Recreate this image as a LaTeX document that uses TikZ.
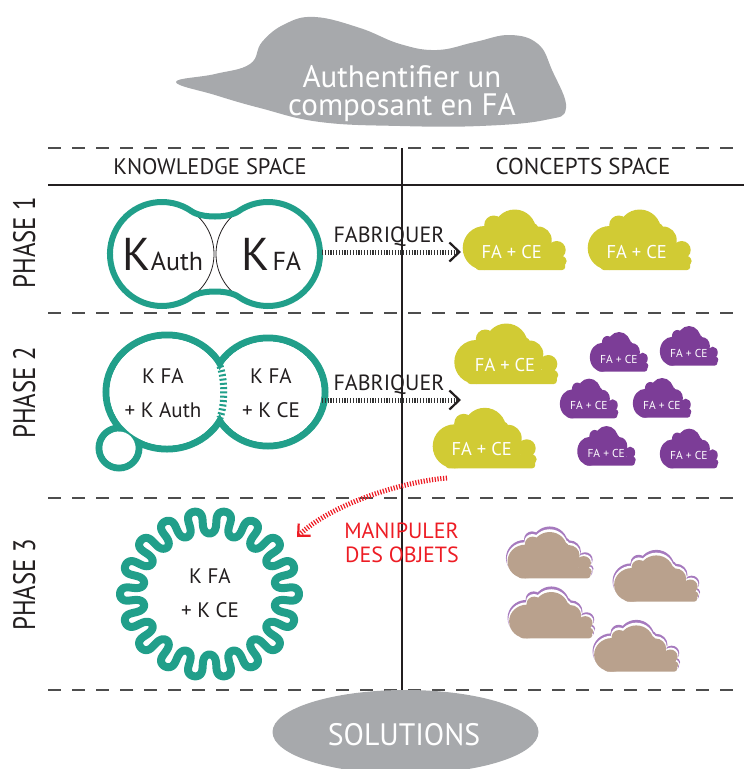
\documentclass[tikz,border=0pt]{standalone}
\usepackage{fontspec}
\setmainfont{PT Sans}
\newfontfamily\hdrfont[FakeStretch=1.0]{PT Sans}
\newfontfamily\solfont[FakeStretch=0.96]{PT Sans}
\newfontfamily\phfont[FakeStretch=0.8]{PT Sans}
\usetikzlibrary{arrows.meta,shapes.geometric}
\definecolor{tealc}{RGB}{33,159,138}
\definecolor{yelc}{RGB}{209,203,52}
\definecolor{purc}{RGB}{124,61,151}
\definecolor{lpurc}{RGB}{166,122,190}
\definecolor{brownc}{RGB}{185,161,141}
\definecolor{grayc}{RGB}{167,169,172}
\definecolor{inkc}{RGB}{35,31,32}
\definecolor{redc}{RGB}{237,28,36}
\definecolor{dashc}{RGB}{77,77,77}
\definecolor{tickc}{RGB}{51,51,51}
\newcommand\fsz[1]{\fontsize{#1}{#1}\selectfont}
\tikzset{
  sepline/.style={dashc, line width=1.4pt, dash pattern=on 13pt off 11pt},
  ruleline/.style={inkc, line width=1.8pt},
  lbl/.style={inkc, inner sep=0pt, anchor=base},
  wtxt/.style={white, inner sep=0pt, anchor=base},
  ctxt/.style={white, inner sep=0pt},
  ticks/.style={tickc, line width=5pt, dash pattern=on 1.2pt off 1.6pt},
  redticks/.style={redc, line width=5pt, dash pattern=on 1.2pt off 1.6pt},
  cloudpic/.pic={
    \fill[pic actions] (23,-22) circle[radius=22] (32,-45) circle[radius=9.5]
      (53,-39) circle[radius=21.5] (76.5,-30) circle[radius=13.5]
      (95,-20) circle[radius=9] (100.5,-9) circle[radius=4.5]
      (40,-44) circle[radius=8] (68,-38) circle[radius=10];
    \fill[pic actions, rounded corners=3pt] (14,0) rectangle (103.5,-14);
    \fill[pic actions] (15,-10) rectangle (88,-36);
  }
}
\newcommand\layercloud[2]{%
  \pic[fill=lpurc, xscale=0.842, yscale=0.819] at ({#1-1.6},{#2-2.3}) {cloudpic};
  \pic[fill=white, xscale=0.826, yscale=0.792] at ({#1-0.8},{#2-1.15}) {cloudpic};
  \pic[fill=brownc, xscale=0.81, yscale=0.765] at (#1,#2) {cloudpic};}
\begin{document}
\begin{tikzpicture}[x=1pt,y=-1pt]
\useasboundingbox (0,0) rectangle (744,769);
% ---- top cloud
\fill[grayc] plot[smooth cycle, tension=0.7] coordinates {(176,82) (215,74) (250,64) (262,42) (285,24) (315,17) (360,28) (400,44) (437,50) (475,42) (510,35) (538,44) (552,70) (566,108) (545,120) (480,126) (400,126) (320,122) (260,108) (215,95)};
\node[wtxt, font={\fsz{31}}] (goal1) at (402,87) {Authentifier un};
\node[wtxt, font={\fsz{31}}] (goal2) at (402,115) {composant en FA};
% ---- grid
\coordinate (d0l) at (48,148); \coordinate (d0r) at (744,148);
\coordinate (d1l) at (48,313); \coordinate (d1r) at (744,313);
\coordinate (d2l) at (48,498); \coordinate (d2r) at (744,498);
\coordinate (d3l) at (48,690); \coordinate (d3r) at (744,690);
\coordinate (hl) at (48,185); \coordinate (hr) at (744,185);
\coordinate (vt) at (402,148); \coordinate (vb) at (402,690);
\draw[sepline] (d0l) -- (d0r);
\draw[sepline] (d1l) -- (d1r);
\draw[sepline] (d2l) -- (d2r);
\draw[sepline] (d3l) -- (d3r);
\draw[ruleline] (hl) -- (hr);
\draw[ruleline] (vt) -- (vb);
\node[lbl, font={\hdrfont\fsz{22.5}}] (hk) at (210,174) {KNOWLEDGE SPACE};
\node[lbl, font={\hdrfont\fsz{23}}] (hc) at (583,174) {CONCEPTS SPACE};
\node[lbl, rotate=90, font={\phfont\fsz{31}}] (ph1) at (35,242.5) {PHASE 1};
\node[lbl, rotate=90, font={\phfont\fsz{31}}] (ph2) at (35,393) {PHASE 2};
\node[lbl, rotate=90, font={\phfont\fsz{31}}] (ph3) at (35,585) {PHASE 3};
% ---- phase 1 knowledge
\coordinate (L1) at (162,254); \coordinate (R1) at (268,254);
\draw[inkc, line width=0.8pt] (L1) ++(-57:52) arc[start angle=-57, end angle=57, radius=52];
\draw[inkc, line width=0.8pt] (R1) ++(123:52) arc[start angle=123, end angle=237, radius=52];
\draw[tealc, line width=6pt] (191.8,211.4) arc[start angle=-55, end angle=-305, radius=52]
  .. controls (201.6,289.8) and (228.4,289.8) .. (238.2,296.6)
  arc[start angle=125, end angle=-125, radius=52]
  .. controls (228.4,218.2) and (201.6,218.2) .. (191.8,211.4) -- cycle;
\node[lbl] (kauth) at (163,270) {{\fsz{46}K}{\fsz{26}Auth}};
\node[lbl] (kfa) at (271.5,270) {{\fsz{46}K} {\fsz{26}FA}};
% ---- phase 2 knowledge
\draw[tealc, line width=7pt] (167,392) ellipse[x radius=61, y radius=57]
  (268,392) ellipse[x radius=57, y radius=54] (119,448) circle[radius=20];
\fill[white] (167,392) ellipse[x radius=57.5, y radius=53.5]
  (268,392) ellipse[x radius=53.5, y radius=50.5] (119,448) circle[radius=16.5];
\draw[tealc, line width=7pt, dash pattern=on 2pt off 2.3pt] (220,366) .. controls (225,380) and (225,404) .. (220,418);
\node[lbl, font={\fsz{21}}] (k2a) at (163,383) {K FA};
\node[lbl, font={\fsz{21}}] (k2b) at (163,417) {+ K Auth};
\node[lbl, font={\fsz{21}}] (k2c) at (271,383) {K FA};
\node[lbl, font={\fsz{21}}] (k2d) at (271,417) {+ K CE};
% ---- phase 3 knowledge (meander ring)
\draw[tealc, line width=8pt, line join=round] plot[domain=0:360, samples=721, variable=\t]
  ({209.5+(78+11.5*cos(18*\t))*cos(\t+1.75*sin(36*\t))},{594+(72+11.5*cos(18*\t))*sin(\t+1.75*sin(36*\t))}) -- cycle;
\node[lbl, font={\fsz{21}}] (k3a) at (210,583) {K FA};
\node[lbl, font={\fsz{21}}] (k3b) at (210,617) {+ K CE};
% ---- arrows
\node[lbl, font={\fsz{22}}] (fab1) at (389,242) {FABRIQUER};
\node[lbl, font={\fsz{22}}] (fab2) at (389,390) {FABRIQUER};
\coordinate (a1s) at (322,252); \coordinate (a1e) at (461,252);
\coordinate (a2s) at (322,400); \coordinate (a2e) at (461,400);
\draw[ticks, -{Straight Barb[length=10pt, width=19pt, line width=2.2pt, color=inkc]}] (a1s) -- (a1e);
\draw[ticks, -{Straight Barb[length=10pt, width=19pt, line width=2.2pt, color=inkc]}] (a2s) -- (a2e);
\coordinate (m1s) at (447,478); \coordinate (m1e) at (297,537);
\draw[redticks, -{Straight Barb[length=9pt, width=17pt, line width=2.2pt]}] (m1s) .. controls (400,482) and (330,505) .. (m1e);
\node[lbl, redc, font={\fsz{22}}] (man1) at (401.5,538) {MANIPULER};
\node[lbl, redc, font={\fsz{22}}] (man2) at (402,562) {DES OBJETS};
% ---- concept clouds phase 1
\pic[fill=yelc] at (461.7,270) {cloudpic};
\pic[fill=yelc] at (586.7,270) {cloudpic};
\node[ctxt, font={\fsz{18.5}}] (c1t) at (511.7,251.7) {FA + CE};
\node[ctxt, font={\fsz{18.5}}] (c2t) at (636.7,251.7) {FA + CE};
% ---- concept clouds phase 2
\pic[fill=yelc] at (453.3,384) {cloudpic};
\pic[fill=yelc] at (431.7,468.3) {cloudpic};
\node[ctxt, font={\fsz{18.5}}] (c3t) at (505,365) {FA + CE};
\node[ctxt, font={\fsz{18.5}}] (c4t) at (481.7,449.3) {FA + CE};
\foreach \px/\py/\nm in {589.3/371.7/p1, 659.3/365.7/p2, 559.3/418.3/p3, 632.3/417.7/p4, 576.7/465.7/p5, 659.3/468.3/p6}{
  \pic[fill=purc, xscale=0.562, yscale=0.656] at (\px,\py) {cloudpic};
  \node[ctxt, font={\fsz{11.5}}] (\nm) at (\px+29.5,\py-12.5) {FA + CE};
}
% ---- concept clouds phase 3
\layercloud{506.7}{578.3}
\layercloud{613.3}{601.7}
\layercloud{508.3}{638.3}
\layercloud{593.3}{671.7}
% ---- solutions
\node[ellipse, fill=grayc, minimum width=266pt, minimum height=84pt, inner sep=0pt] (sol) at (405.5,732) {};
\node[wtxt, font={\solfont\fsz{31}}] (solt) at (404,745) {SOLUTIONS};
\end{tikzpicture}
\end{document}
